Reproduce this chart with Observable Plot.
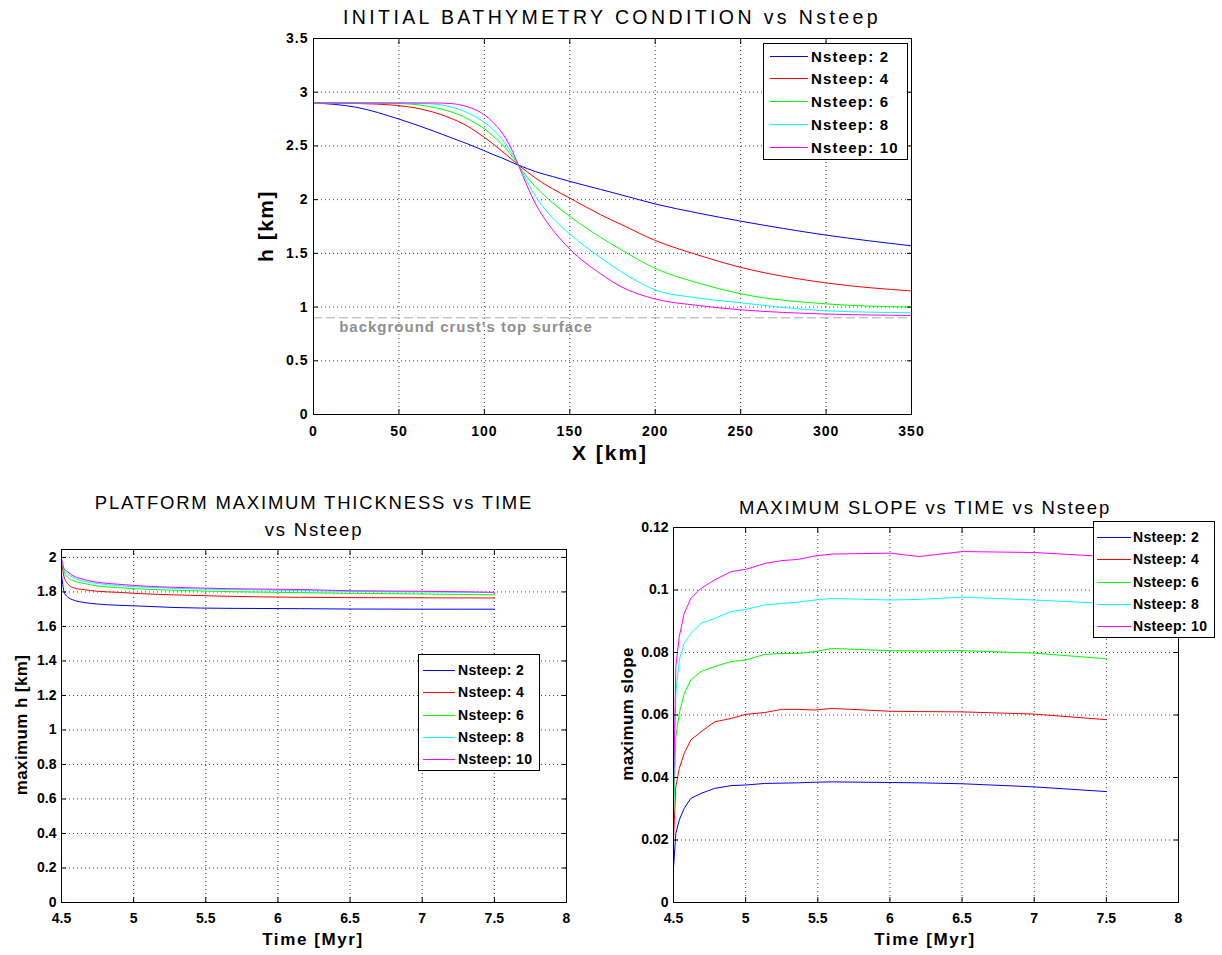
<!DOCTYPE html>
<html>
<head>
<meta charset="utf-8">
<script src="https://cdn.jsdelivr.net/npm/d3@7"></script>
<script src="https://cdn.jsdelivr.net/npm/@observablehq/plot@0.6"></script>
<style>
  html, body { margin: 0; padding: 0; background: #fff; }
  #root { position: relative; width: 1222px; height: 955px; overflow: hidden;
          font-family: "Liberation Sans", Arial, Helvetica, sans-serif; color: #000; }
  .wrap { position: absolute; }
  .lbl { position: absolute; white-space: nowrap; line-height: 1; }
  .legend { position: absolute; background: #fff; border: 1px solid #000; box-sizing: border-box; }
  .lgline { position: absolute; height: 1px; }
</style>
</head>
<body>
<div id="root"></div>
<script>
// ---------------- DATA ----------------
const nsteep = [2, 4, 6, 8, 10];
const seriesColors = ["#0000ff", "#ff0000", "#00ff00", "#00ffff", "#ff00ff"];
const legendLabels = ["Nsteep: 2", "Nsteep: 4", "Nsteep: 6", "Nsteep: 8", "Nsteep: 10"];

// Panel 1: initial bathymetry h [km] vs X [km]
const bathyX   = [0, 25, 50, 70, 80, 90, 95, 100, 105, 110, 115, 120, 125, 130, 140, 150, 168, 180, 200, 225, 250, 300, 350];
const bathyH2  = [2.90, 2.86, 2.75, 2.64, 2.58, 2.52, 2.488, 2.455, 2.42, 2.39, 2.355, 2.32, 2.29, 2.26, 2.215, 2.17, 2.095, 2.045, 1.96, 1.875, 1.80, 1.67, 1.57];
const bathyH4  = [2.90, 2.895, 2.875, 2.815, 2.76, 2.685, 2.635, 2.58, 2.52, 2.455, 2.39, 2.32, 2.26, 2.20, 2.10, 2.015, 1.86, 1.77, 1.62, 1.485, 1.37, 1.225, 1.15];
const bathyH6  = [2.90, 2.90, 2.895, 2.86, 2.82, 2.755, 2.71, 2.66, 2.595, 2.52, 2.43, 2.32, 2.21, 2.12, 1.97, 1.845, 1.65, 1.535, 1.36, 1.225, 1.124, 1.03, 1.00];
const bathyH8  = [2.90, 2.90, 2.90, 2.89, 2.865, 2.81, 2.77, 2.72, 2.655, 2.57, 2.46, 2.32, 2.17, 2.03, 1.83, 1.68, 1.46, 1.33, 1.16, 1.085, 1.04, 0.965, 0.947];
const bathyH10 = [2.90, 2.90, 2.90, 2.90, 2.895, 2.865, 2.835, 2.79, 2.72, 2.63, 2.50, 2.32, 2.13, 1.96, 1.72, 1.54, 1.31, 1.19, 1.075, 1.015, 0.975, 0.935, 0.922];
const crustLevel = [0.9];
const crustNote = [{x: 15, y: 0.9, text: "background crust's top surface"}];

// Panel 2: platform maximum thickness [km] vs time [Myr]
const thickT   = [4.5, 4.518, 4.541, 4.587, 4.657, 4.749, 4.887, 5.049, 5.279, 5.649, 6.156, 6.5, 7.0, 7.5];
const thickH2  = [1.907, 1.80, 1.772, 1.752, 1.739, 1.730, 1.723, 1.718, 1.710, 1.705, 1.703, 1.701, 1.700, 1.700];
const thickH4  = [1.975, 1.887, 1.849, 1.823, 1.813, 1.804, 1.798, 1.790, 1.783, 1.775, 1.769, 1.767, 1.766, 1.765];
const thickH6  = [1.984, 1.917, 1.887, 1.864, 1.849, 1.835, 1.825, 1.817, 1.810, 1.802, 1.796, 1.792, 1.788, 1.783];
const thickH8  = [1.990, 1.930, 1.907, 1.882, 1.862, 1.849, 1.837, 1.829, 1.821, 1.814, 1.808, 1.803, 1.800, 1.797];
const thickH10 = [1.994, 1.936, 1.917, 1.891, 1.872, 1.856, 1.845, 1.835, 1.827, 1.819, 1.814, 1.807, 1.804, 1.798];

// Panel 3: maximum slope vs time [Myr]
const slopeT   = [4.5, 4.516, 4.54, 4.574, 4.62, 4.69, 4.784, 4.9, 5.0, 5.133, 5.25, 5.365, 5.48, 5.6, 6.0, 6.2, 6.5, 7.0, 7.5];
const slope2   = [0.011, 0.0221, 0.0264, 0.0301, 0.0333, 0.0349, 0.0365, 0.0374, 0.0376, 0.0381, 0.0382, 0.0383, 0.0385, 0.0386, 0.0384, 0.0383, 0.0380, 0.0370, 0.0355];
const slope4   = [0.020, 0.0370, 0.0429, 0.0477, 0.0520, 0.0546, 0.0578, 0.0589, 0.0602, 0.0608, 0.0618, 0.0618, 0.0616, 0.0621, 0.0612, 0.0611, 0.0610, 0.0603, 0.0585];
const slope6   = [0.027, 0.0530, 0.0605, 0.0669, 0.0712, 0.0739, 0.0755, 0.0771, 0.0776, 0.0794, 0.0797, 0.0797, 0.0803, 0.0813, 0.0806, 0.0805, 0.0806, 0.0798, 0.0780];
const slope8   = [0.030, 0.0669, 0.0776, 0.0829, 0.0861, 0.0893, 0.0909, 0.0931, 0.0938, 0.0952, 0.0957, 0.0961, 0.0968, 0.0973, 0.0968, 0.0970, 0.0977, 0.0968, 0.0957];
const slope10  = [0.035, 0.0755, 0.0851, 0.0925, 0.0973, 0.1005, 0.1032, 0.1059, 0.1066, 0.1085, 0.1094, 0.1098, 0.1109, 0.1115, 0.1118, 0.1107, 0.1123, 0.1120, 0.1107];

// Tick values
const topXTicks = [0, 50, 100, 150, 200, 250, 300, 350];
const topYTicks = [0, 0.5, 1, 1.5, 2, 2.5, 3, 3.5];
const timeTicks = [4.5, 5, 5.5, 6, 6.5, 7, 7.5, 8];
const thickYTicks = [0, 0.2, 0.4, 0.6, 0.8, 1, 1.2, 1.4, 1.6, 1.8, 2];
const slopeYTicks = [0, 0.02, 0.04, 0.06, 0.08, 0.1, 0.12];

// Texts
const titles = {
  top: "INITIAL BATHYMETRY CONDITION vs Nsteep",
  left1: "PLATFORM MAXIMUM THICKNESS vs TIME",
  left2: "vs Nsteep",
  right: "MAXIMUM SLOPE vs TIME vs Nsteep"
};
const axisLabels = {
  topX: "X [km]", topY: "h [km]",
  leftX: "Time [Myr]", leftY: "maximum h [km]",
  rightX: "Time [Myr]", rightY: "maximum slope"
};

// ---------------- BUILD ----------------
const root = document.getElementById("root");
const toRows = (xs, ys) => nsteep.flatMap((n, i) => xs.map((x, j) => ({n, x, y: ys[i][j]})));
const bathyData = toRows(bathyX, [bathyH2, bathyH4, bathyH6, bathyH8, bathyH10]);
const thickData = toRows(thickT, [thickH2, thickH4, thickH6, thickH8, thickH10]);
const slopeData = toRows(slopeT, [slope2, slope4, slope6, slope8, slope10]);

function panel({left, top, width, height, mt, mr, mb, ml, xDomain, yDomain, xTicks, yTicks, data, curve, extra = [], fontSize = 14, letterSpacing = 0, xPad = 11}) {
  const gridStyle = {stroke: "#000", strokeOpacity: 0.75, strokeDasharray: "1,3"};
  const fmt = d => String(d);
  const svg = Plot.plot({
    width, height,
    marginTop: mt, marginRight: mr, marginBottom: mb, marginLeft: ml,
    x: {domain: xDomain},
    y: {domain: yDomain},
    color: {domain: nsteep, range: seriesColors},
    style: {
      fontFamily: "'Liberation Sans', Arial, Helvetica, sans-serif",
      fontSize: fontSize + "px", fontWeight: "bold", color: "#000",
      background: "transparent", letterSpacing: letterSpacing + "px", overflow: "visible"
    },
    marks: [
      Plot.gridX(xTicks, gridStyle),
      Plot.gridY(yTicks, gridStyle),
      ...extra,
      Plot.line(data, {x: "x", y: "y", z: "n", stroke: "n", strokeWidth: 1, curve, clip: true}),
      Plot.frame({stroke: "#000", strokeWidth: 1}),
      Plot.axisX(xTicks, {anchor: "bottom", tickSize: -5, fill: "none", label: null}),
      Plot.axisX(xTicks, {anchor: "top", tickSize: -5, fill: "none", label: null}),
      Plot.axisY(yTicks, {anchor: "left", tickSize: -5, fill: "none", label: null}),
      Plot.axisY(yTicks, {anchor: "right", tickSize: -5, fill: "none", label: null}),
      Plot.axisX(xTicks, {anchor: "bottom", tickSize: 0, tickPadding: xPad, tickFormat: fmt, label: null, fill: "#000"}),
      Plot.axisY(yTicks, {anchor: "left", tickSize: 0, tickPadding: 5, tickFormat: fmt, label: null, fill: "#000"})
    ]
  });
  const w = document.createElement("div");
  w.className = "wrap";
  w.style.left = left + "px";
  w.style.top = top + "px";
  w.appendChild(svg);
  root.appendChild(w);
}

// Top panel
panel({
  left: 0, top: 0, width: 1222, height: 470,
  mt: 38, mr: 311, mb: 56, ml: 313,
  xDomain: [0, 350], yDomain: [0, 3.5],
  xTicks: topXTicks, yTicks: topYTicks,
  data: bathyData, curve: "monotone-x",
  fontSize: 14, letterSpacing: 1, xPad: 12,
  extra: [
    Plot.ruleY(crustLevel, {y: d => d, stroke: "#aaaaaa", strokeDasharray: "9,4", strokeWidth: 1}),
    Plot.text(crustNote, {x: "x", y: "y", text: "text", textAnchor: "start", dy: 9, fill: "#8f8f8f", fontSize: 15, fontWeight: "bold"})
  ]
});

// Bottom-left panel
panel({
  left: 0, top: 470, width: 611, height: 485,
  mt: 79, mr: 45, mb: 53, ml: 61,
  xDomain: [4.5, 8], yDomain: [0, 2.046],
  xTicks: timeTicks, yTicks: thickYTicks,
  data: thickData, curve: "monotone-x"
});

// Bottom-right panel
panel({
  left: 611, top: 470, width: 611, height: 485,
  mt: 57, mr: 44, mb: 53, ml: 62,
  xDomain: [4.5, 8], yDomain: [0, 0.12],
  xTicks: timeTicks, yTicks: slopeYTicks,
  data: slopeData, curve: "linear"
});

// ---------------- TEXT OVERLAYS ----------------
function addText(txt, {x, y, size, weight = "normal", spacing = 0, rotate = false, color = "#000"}) {
  const d = document.createElement("div");
  d.className = "lbl";
  d.textContent = txt;
  d.style.left = x + "px";
  d.style.top = y + "px";
  d.style.fontSize = size + "px";
  d.style.fontWeight = weight;
  d.style.letterSpacing = spacing + "px";
  d.style.color = color;
  d.style.transform = "translate(-50%,-50%)" + (rotate ? " rotate(-90deg)" : "");
  root.appendChild(d);
}

addText(titles.top,   {x: 612, y: 18, size: 19.5, spacing: 3.4});
addText(titles.left1, {x: 314, y: 503, size: 18.5, spacing: 1.8});
addText(titles.left2, {x: 314, y: 530, size: 18.5, spacing: 1.8});
addText(titles.right, {x: 925, y: 508, size: 18.5, spacing: 1.8});

addText(axisLabels.topX,   {x: 610, y: 452, size: 21, weight: "bold", spacing: 2});
addText(axisLabels.topY,   {x: 265, y: 226, size: 21, weight: "bold", spacing: 1.5, rotate: true});
addText(axisLabels.leftX,  {x: 313, y: 939, size: 17, weight: "bold", spacing: 1.6});
addText(axisLabels.leftY,  {x: 21,  y: 725, size: 17, weight: "bold", spacing: 0.4, rotate: true});
addText(axisLabels.rightX, {x: 925, y: 939, size: 17, weight: "bold", spacing: 1.6});
addText(axisLabels.rightY, {x: 627, y: 714, size: 17, weight: "bold", spacing: 0.4, rotate: true});

// ---------------- LEGENDS ----------------
function addLegend({x, y, w, h, lineX1, lineX2, textX, firstY, stepY, size, spacing}) {
  const box = document.createElement("div");
  box.className = "legend";
  box.style.left = x + "px"; box.style.top = y + "px";
  box.style.width = w + "px"; box.style.height = h + "px";
  root.appendChild(box);
  legendLabels.forEach((lab, i) => {
    const cy = firstY + i * stepY;
    const ln = document.createElement("div");
    ln.className = "lgline";
    ln.style.left = lineX1 + "px";
    ln.style.top = Math.round(cy) + "px";
    ln.style.width = (lineX2 - lineX1) + "px";
    ln.style.backgroundColor = seriesColors[i];
    root.appendChild(ln);
    const t = document.createElement("div");
    t.className = "lbl";
    t.textContent = lab;
    t.style.left = textX + "px";
    t.style.top = cy + "px";
    t.style.fontSize = size + "px";
    t.style.fontWeight = "bold";
    t.style.letterSpacing = spacing + "px";
    t.style.transform = "translateY(-50%)";
    root.appendChild(t);
  });
}

addLegend({x: 763, y: 43, w: 145, h: 117, lineX1: 770, lineX2: 808, textX: 811, firstY: 55.5, stepY: 22.9, size: 15, spacing: 1.2});
addLegend({x: 418, y: 654, w: 122, h: 117, lineX1: 423, lineX2: 455, textX: 458, firstY: 670, stepY: 22.3, size: 14, spacing: 0.35});
addLegend({x: 1093, y: 521, w: 122, h: 117, lineX1: 1097, lineX2: 1131, textX: 1133, firstY: 537, stepY: 22.3, size: 14, spacing: 0.35});
</script>
</body>
</html>
